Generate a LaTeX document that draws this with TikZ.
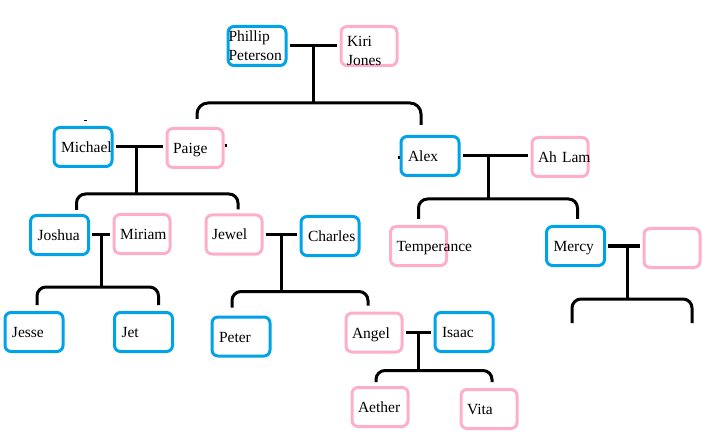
\documentclass[tikz,border=0pt]{standalone}
\usepackage{fontspec}
\setmainfont{Liberation Serif}
\usetikzlibrary{calc}
\definecolor{blue1}{RGB}{0, 162, 232}
\definecolor{pink1}{RGB}{255, 174, 201}

\begin{document}
\begin{tikzpicture}[x=1pt, y=-1pt, line width=3pt,
  person/.style={rectangle, rounded corners=6pt, line width=3pt, minimum height=39pt,
    text width=44pt, align=left, inner xsep=5pt, inner ysep=2pt,
    text height=11pt, text depth=0pt, font=\fontsize{15.5}{19}\selectfont},
  male/.style={person, draw=blue1, minimum width=58pt},
  female/.style={person, draw=pink1, minimum width=56pt},
  couple/.style={shorten <=2pt, shorten >=3pt},
  brace/.style={rounded corners=9pt, shorten <=6pt, shorten >=6pt}]
  \useasboundingbox (0,0) rectangle (714,438);

  % generation 1
  \node[male, text width=57pt, inner xsep=0pt, text height=, text depth=] (phillip) at (257,46) {Phillip\\Peterson};
  \node[female, text height=, text depth=9pt, inner ysep=0pt] (kiri) at (369,46) {Kiri\\Jones};

  % generation 2
  \node[male] (michael) at (83,147) {Michael};
  \node[female] (paige) at (195,148) {Paige};
  \node[male] (alex) at (430,156) {Alex};
  \node[female] (ahlam) at (560,157) {Ah~Lam};

  % generation 3
  \node[male] (joshua) at (59.5,235) {Joshua};
  \node[female] (miriam) at (142,234) {Miriam};
  \node[female] (jewel) at (234,234.5) {Jewel};
  \node[male] (charles) at (330,236) {Charles};
  \node[female] (temperance) at (418.5,246) {Temperance};
  \node[male] (mercy) at (575.5,246) {Mercy};
  \node[female] (mercyp) at (672,248) {};

  % generation 4
  \node[male] (jesse) at (34,332) {Jesse};
  \node[male] (jet) at (143.5,332) {Jet};
  \node[male] (peter) at (241,336.5) {Peter};
  \node[female] (angel) at (374,332.5) {Angel};
  \node[male] (isaac) at (464,332) {Isaac};

  % generation 5
  \node[female] (aether) at (380,407) {Aether};
  \node[female] (vita) at (489,409) {Vita};

  % couples
  \foreach \a/\b/\p/\j/\d in {phillip/kiri/.5/pk/57, michael/paige/.45/mp/47,
      alex/ahlam/.4/aa/43, joshua/miriam/.5/jm/52, jewel/charles/.5/jc/57,
      mercy/mercyp/.6/mm/53, angel/isaac/.5/ai/38}{
    \draw[couple] (\a.east) -- (\a.east -| \b.west);
    \coordinate (\j) at ($(\a.east)!\p!(\a.east -| \b.west)$);
    \coordinate (\j d) at ($(\j)+(0,\d)$);
    \draw (\j) -- (\j d);
  }

  % children
  \draw[brace, rounded corners=11pt, shorten <=8pt, shorten >=10pt]
    ([xshift=2pt]paige.north) |- (pkd) -| ([xshift=-9pt]alex.north);
  \draw[brace, shorten <=4pt, shorten >=4pt]
    ([xshift=17pt]joshua.north) |- (mpd) -| ([xshift=4pt]jewel.north);
  \draw[brace] (temperance.north) |- (aad) -| ([xshift=2pt]mercy.north);
  \draw[brace] ([xshift=3pt]jesse.north) |- (jmd) -| ([xshift=15pt]jet.north);
  \draw[brace, shorten <=8pt] ([xshift=-9pt]peter.north) |- (jcd) -| ([xshift=-6pt]angel.north);
  \draw[brace, shorten <=4pt] ([xshift=-4pt]aether.north) |- (aid) -| ([xshift=3pt]vita.north);
  \coordinate (mml) at (572,323);
  \coordinate (mmr) at (692,323);
  \draw[brace, shorten <=0pt, shorten >=0pt] (mml) |- (mmd) -| (mmr);

  % stray marks
  \draw[line width=1pt] ([xshift=1pt,yshift=5pt]michael.north) -- ++(3,0);
  \draw ([yshift=2pt]paige.east) -- ++(2,0);
  \draw ([yshift=-2pt]alex.west) -- ++(-2,0);
\end{tikzpicture}
\end{document}
